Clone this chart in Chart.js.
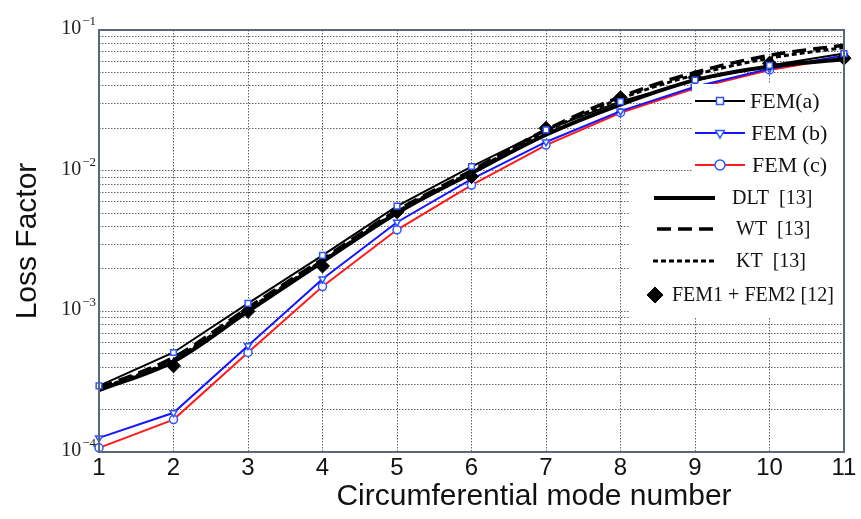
<!DOCTYPE html>
<html>
<head>
<meta charset="utf-8">
<title>Loss factor vs circumferential mode</title>
<script src="https://cdn.jsdelivr.net/npm/chart.js@4.4.1/dist/chart.umd.min.js"></script>
<style>
  html, body { margin: 0; padding: 0; background: #fff; }
  #wrap { width: 861px; height: 519px; }
</style>
</head>
<body>
<div id="wrap"><canvas id="lossChart" width="861" height="519"></canvas></div>
<script>
// --- Data ---
const modes = [1, 2, 3, 4, 5, 6, 7, 8, 9, 10, 11];
const femA = [2.95e-4, 5.1e-4, 1.14e-3, 2.5e-3, 5.6e-3, 1.07e-2, 1.95e-2, 3.1e-2, 4.4e-2, 5.6e-2, 6.8e-2];
const femB = [1.26e-4, 1.9e-4, 5.7e-4, 1.7e-3, 4.3e-3, 8.7e-3, 1.6e-2, 2.65e-2, 3.95e-2, 5.3e-2, 6.6e-2];
const femC = [1.07e-4, 1.7e-4, 5.1e-4, 1.5e-3, 3.8e-3, 7.9e-3, 1.52e-2, 2.58e-2, 3.85e-2, 5.2e-2, 6.4e-2];
const dlt = [2.75e-4, 4.4e-4, 1.0e-3, 2.25e-3, 5.0e-3, 9.6e-3, 1.8e-2, 2.95e-2, 4.4e-2, 5.5e-2, 6.2e-2];
const wt = [2.85e-4, 4.7e-4, 1.06e-3, 2.35e-3, 5.2e-3, 1.0e-2, 1.95e-2, 3.35e-2, 5.0e-2, 6.6e-2, 7.8e-2];
const kt = [2.8e-4, 4.55e-4, 1.03e-3, 2.3e-3, 5.1e-3, 9.8e-3, 1.9e-2, 3.25e-2, 4.8e-2, 6.3e-2, 7.5e-2];
const fem12 = [null, 4.1e-4, 1.0e-3, 2.1e-3, 5.1e-3, 9.1e-3, 2.0e-2, 3.3e-2, 4.6e-2, 5.8e-2, 6.3e-2];

// y axis decades (10^e) and the minor multipliers between them
const decadeExps = [-4, -3, -2, -1];
const minorSteps = [2, 3, 4, 5, 6, 7, 8, 9];

const SERIF = '"Liberation Serif", "Times New Roman", serif';
const SANS = '"Liberation Sans", Arial, sans-serif';

const toPoints = arr => modes.map((m, i) => ({ x: m, y: arr[i] }));

// --- Plugins ---
const frame = {
    id: 'frame',
    afterDatasetsDraw(chart) {
        const { ctx, chartArea: a } = chart;
        ctx.save();
        ctx.strokeStyle = '#58677c';
        ctx.lineWidth = 2;
        ctx.strokeRect(a.left, a.top, a.right - a.left, a.bottom - a.top);
        ctx.restore();
    }
};

// 10^n labels with a raised exponent
const decadeLabels = {
    id: 'decadeLabels',
    afterDraw(chart) {
        const ctx = chart.ctx;
        const y = chart.scales.y;
        const right = chart.chartArea.left - 3;
        ctx.save();
        ctx.fillStyle = '#222';
        ctx.textAlign = 'right';
        ctx.textBaseline = 'alphabetic';
        decadeExps.forEach(e => {
            const py = y.getPixelForValue(Math.pow(10, e));
            const sup = '\u2212' + Math.abs(e);
            ctx.font = '13px ' + SERIF;
            const sw = ctx.measureText(sup).width;
            ctx.fillText(sup, right, py - 5);
            ctx.font = '20px ' + SERIF;
            ctx.fillText('10', right - sw - 1, py + 4);
        });
        ctx.restore();
    }
};

const axisTitles = {
    id: 'axisTitles',
    afterDraw(chart) {
        const { ctx, chartArea: a } = chart;
        ctx.save();
        ctx.fillStyle = '#111';
        ctx.font = '30px ' + SANS;
        ctx.textAlign = 'center';
        ctx.textBaseline = 'middle';
        ctx.fillText('Circumferential mode number', 534, 497);
        ctx.translate(28, (a.top + a.bottom) / 2);
        ctx.rotate(-Math.PI / 2);
        ctx.fillText('Loss Factor', 0, 0);
        ctx.restore();
    }
};

// two-part legend inside the plot
const legendBoxes = {
    id: 'legendBoxes',
    afterDraw(chart) {
        const ctx = chart.ctx;
        const ds = chart.data.datasets;
        ctx.save();
        ctx.fillStyle = '#fff';
        ctx.fillRect(692, 84, 151, 92);
        ctx.fillRect(630, 176, 213, 142);

        const sample = (d, x0, x1, y, mx) => {
            ctx.save();
            if (d.showLine !== false) {
                ctx.strokeStyle = d.borderColor;
                ctx.lineWidth = d.borderWidth;
                ctx.setLineDash(d.borderDash || []);
                ctx.beginPath();
                ctx.moveTo(x0, y);
                ctx.lineTo(x1, y);
                ctx.stroke();
                ctx.setLineDash([]);
            }
            if (d.pointRadius > 0 && mx !== null) {
                ctx.fillStyle = d.pointBackgroundColor;
                ctx.strokeStyle = d.pointBorderColor;
                ctx.lineWidth = d.pointBorderWidth;
                Chart.helpers.drawPoint(ctx, {
                    pointStyle: d.pointStyle,
                    radius: d.pointRadius + 1,
                    rotation: d.pointRotation || 0,
                    borderWidth: d.pointBorderWidth
                }, mx, y);
            }
            ctx.restore();
        };

        const text = (s, x, y, size) => {
            ctx.fillStyle = '#111';
            ctx.font = size + 'px ' + SERIF;
            ctx.textAlign = 'left';
            ctx.textBaseline = 'middle';
            ctx.fillText(s, x, y);
        };

        sample(ds[0], 695, 745, 101, 720); text('FEM(a)', 750, 102, 22);
        sample(ds[5], 695, 745, 133, 720); text('FEM (b)', 751, 134, 22);
        sample(ds[6], 695, 745, 165, 720); text('FEM (c)', 752, 166, 22);

        sample(ds[2], 654, 715, 198, null); text('DLT  [13]', 732, 199, 20);
        sample(ds[3], 657, 717, 229, null); text('WT  [13]', 736, 230, 20);
        sample(ds[4], 653, 715, 261, null); text('KT  [13]', 736, 262, 20);
        sample(ds[1], 0, 0, 295, 655); text('FEM1 + FEM2 [12]', 672, 296, 20);
        ctx.restore();
    }
};

// --- Chart ---
// in v4 the grid line dash is taken from border.dash
const gridStyle = {
    color: 'rgba(70, 70, 70, 0.85)',
    lineWidth: 1,
    drawTicks: false
};
const dottedBorder = { display: false, dash: [1.5, 1.5] };

new Chart(document.getElementById('lossChart').getContext('2d'), {
    type: 'line',
    data: {
        datasets: [
            {
                label: 'FEM(a)',
                data: toPoints(femA),
                borderColor: '#000',
                borderWidth: 2,
                pointStyle: 'rect',
                pointRadius: 4,
                pointBorderColor: '#2f55ff',
                pointBackgroundColor: '#fff',
                pointBorderWidth: 1.5,
                order: 0
            },
            {
                label: 'FEM1 + FEM2 [12]',
                data: toPoints(fem12),
                showLine: false,
                pointStyle: 'rectRot',
                pointRadius: 7,
                pointBorderColor: '#000',
                pointBackgroundColor: '#000',
                pointBorderWidth: 1,
                order: 1
            },
            {
                label: 'DLT [13]',
                data: toPoints(dlt),
                borderColor: '#000',
                borderWidth: 4,
                cubicInterpolationMode: 'monotone',
                pointRadius: 0,
                order: 2
            },
            {
                label: 'WT [13]',
                data: toPoints(wt),
                borderColor: '#000',
                borderWidth: 3.5,
                borderDash: [14, 7],
                cubicInterpolationMode: 'monotone',
                pointRadius: 0,
                order: 3
            },
            {
                label: 'KT [13]',
                data: toPoints(kt),
                borderColor: '#000',
                borderWidth: 3,
                borderDash: [5, 3],
                cubicInterpolationMode: 'monotone',
                pointRadius: 0,
                order: 4
            },
            {
                label: 'FEM (b)',
                data: toPoints(femB),
                borderColor: '#1414ff',
                borderWidth: 2,
                pointStyle: 'triangle',
                pointRotation: 180,
                pointRadius: 4,
                pointBorderColor: '#2f55ff',
                pointBackgroundColor: '#fff',
                pointBorderWidth: 1.5,
                order: 5
            },
            {
                label: 'FEM (c)',
                data: toPoints(femC),
                borderColor: '#ff1a1a',
                borderWidth: 2,
                pointStyle: 'circle',
                pointRadius: 4,
                pointBorderColor: '#2f55ff',
                pointBackgroundColor: '#fff',
                pointBorderWidth: 1.5,
                order: 6
            }
        ]
    },
    options: {
        responsive: false,
        animation: false,
        devicePixelRatio: 1,
        clip: false,
        layout: { padding: { top: 30, right: 17, left: 0, bottom: 0 } },
        plugins: {
            legend: { display: false },
            tooltip: { enabled: false }
        },
        scales: {
            x: {
                type: 'linear',
                min: 1,
                max: 11,
                border: dottedBorder,
                grid: gridStyle,
                ticks: {
                    stepSize: 1,
                    padding: 2,
                    color: '#111',
                    font: { family: SANS, size: 24 }
                },
                afterFit: scale => { scale.height = 67; }
            },
            y: {
                type: 'logarithmic',
                min: 1e-4,
                max: 1e-1,
                border: dottedBorder,
                grid: gridStyle,
                ticks: { display: false },
                afterBuildTicks: scale => {
                    const ticks = [];
                    decadeExps.forEach(e => {
                        const base = Math.pow(10, e);
                        ticks.push({ value: base, major: true });
                        if (e < -1) minorSteps.forEach(m => ticks.push({ value: m * base }));
                    });
                    scale.ticks = ticks;
                },
                afterFit: scale => { scale.width = 99; }
            }
        }
    },
    plugins: [frame, decadeLabels, axisTitles, legendBoxes]
});
</script>
</body>
</html>
